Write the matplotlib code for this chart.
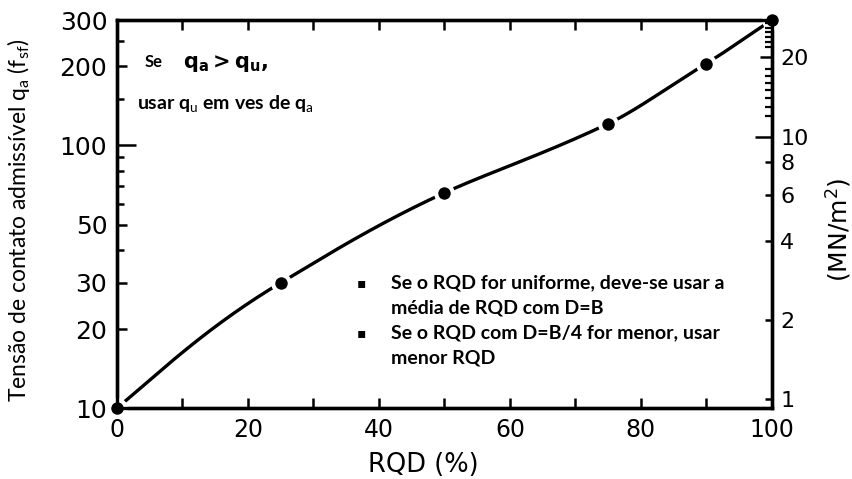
import numpy as np
import matplotlib
matplotlib.use("Agg")
import matplotlib.pyplot as plt
from matplotlib.ticker import FixedLocator, NullFormatter, FixedFormatter

plt.rcParams['mathtext.fontset'] = 'custom'
plt.rcParams['mathtext.rm'] = 'Lato'
plt.rcParams['mathtext.it'] = 'Lato'
plt.rcParams['mathtext.bf'] = 'Lato:bold'

# Allowable bearing pressure vs RQD
rqd = [0, 25, 50, 75, 90, 100]
qa_tsf = [10, 30, 66, 121, 205, 300]

x_ticks = [0, 20, 40, 60, 80, 100]
x_minor = [10, 30, 50, 70, 90]
y_ticks = [10, 20, 30, 50, 100, 200, 300]
y_minor = [40, 60, 70, 80, 90, 150, 250]
r_ticks = [1, 2, 4, 6, 8, 10, 20]
r_minor = [12, 13, 14, 15, 16, 17, 18, 22, 23, 24, 25, 26, 27]
tsf_to_mn = 0.0925


def pchip(x, y, xs):
    """Monotone piecewise cubic Hermite curve through (x, y)."""
    x = np.asarray(x, float)
    y = np.asarray(y, float)
    h = np.diff(x)
    d = np.diff(y) / h
    n = len(x)
    m = np.zeros(n)
    for i in range(1, n - 1):
        if d[i - 1] * d[i] > 0:
            w1 = 2 * h[i] + h[i - 1]
            w2 = h[i] + 2 * h[i - 1]
            m[i] = (w1 + w2) / (w1 / d[i - 1] + w2 / d[i])
    m[0] = ((2 * h[0] + h[1]) * d[0] - h[0] * d[1]) / (h[0] + h[1])
    m[-1] = ((2 * h[-1] + h[-2]) * d[-1] - h[-1] * d[-2]) / (h[-1] + h[-2])
    out = np.empty_like(xs)
    for k, xv in enumerate(xs):
        i = int(np.clip(np.searchsorted(x, xv, side='right') - 1, 0, n - 2))
        t = (xv - x[i]) / h[i]
        h00 = 2 * t ** 3 - 3 * t ** 2 + 1
        h10 = t ** 3 - 2 * t ** 2 + t
        h01 = -2 * t ** 3 + 3 * t ** 2
        h11 = t ** 3 - t ** 2
        out[k] = h00 * y[i] + h10 * h[i] * m[i] + h01 * y[i + 1] + h11 * h[i] * m[i + 1]
    return out


fig = plt.figure(figsize=(8.52, 4.79), dpi=100)
ax = fig.add_axes([0.1373, 0.148, 0.7687, 0.810])

xs = np.linspace(rqd[0], rqd[-1], 400)
ys = pchip(rqd, qa_tsf, xs)
ax.plot(xs, ys, color='black', lw=2.4, solid_capstyle='round', zorder=3)
ax.plot(rqd, qa_tsf, 'o', color='black', ms=12, mec='white', mew=3,
        clip_on=False, zorder=4)

ax.set_yscale('log')
ax.set_xlim(0, 100)
ax.set_ylim(10, 300)

ax.xaxis.set_major_locator(FixedLocator(x_ticks))
ax.xaxis.set_minor_locator(FixedLocator(x_minor))
ax.set_xticklabels([str(v) for v in x_ticks], family='DejaVu Sans', size=17)
ax.yaxis.set_major_locator(FixedLocator(y_ticks))
ax.yaxis.set_minor_locator(FixedLocator(y_minor))
ax.yaxis.set_major_formatter(FixedFormatter([str(v) for v in y_ticks]))
ax.yaxis.set_minor_formatter(NullFormatter())
for lab in ax.get_yticklabels():
    lab.set_fontfamily('DejaVu Sans')
    lab.set_fontsize(18)

ax.tick_params(axis='x', which='both', direction='in', length=7, width=1.8,
               top=True, pad=7)
ax.tick_params(axis='y', which='major', direction='in', length=7, width=1.8,
               pad=7)
ax.tick_params(axis='y', which='minor', direction='in', length=5, width=1.8)
for t in ax.yaxis.get_major_ticks():
    if t.get_loc() == 100:
        t.tick1line.set_markersize(14)

for s in ax.spines.values():
    s.set_linewidth(2.4)

ax2 = ax.twinx()
ax2.set_yscale('log')
ax2.set_ylim(10 * tsf_to_mn, 300 * tsf_to_mn)
ax2.yaxis.set_major_locator(FixedLocator(r_ticks))
ax2.yaxis.set_minor_locator(FixedLocator(r_minor))
ax2.yaxis.set_major_formatter(FixedFormatter([str(v) for v in r_ticks]))
ax2.yaxis.set_minor_formatter(NullFormatter())
for lab in ax2.get_yticklabels():
    lab.set_fontfamily('DejaVu Sans')
    lab.set_fontsize(16)
ax2.tick_params(axis='y', which='major', direction='in', length=5, width=1.8,
                pad=6)
ax2.tick_params(axis='y', which='minor', direction='in', length=5, width=1.6)
for t in ax2.yaxis.get_major_ticks():
    if t.get_loc() in (10, 20):
        t.tick2line.set_markersize(12 if t.get_loc() == 10 else 9)
for s in ax2.spines.values():
    s.set_linewidth(2.4)

fig.text(423 / 852, 1 - 465 / 479, 'RQD (%)', family='DejaVu Sans',
         fontsize=18.5, ha='center', va='center')
fig.text(0.022, 1 - 220 / 479,
         r'Tensão de contato admissível $\mathrm{q_a}$ $\mathrm{(f_{sf})}$',
         family='Lato', fontsize=16.5, rotation=90, ha='center', va='center')
fig.text(838 / 852, 1 - 230 / 479, r'(MN/m$^{\mathregular{2}}$)', family='DejaVu Sans',
         fontsize=18, rotation=90, ha='center', va='center')

# Notes inside the plot
fig.text(145 / 852, 1 - 62 / 479, 'Se', family='Lato', fontsize=12,
         weight='bold', va='center')
fig.text(183 / 852, 1 - 64 / 479, r'$\mathbf{q_a > q_u}$,', family='DejaVu Sans',
         fontsize=15, weight='bold', va='center', math_fontfamily='dejavusans')
fig.text(137 / 852, 1 - 103 / 479, r'usar q$_\mathrm{u}$ em ves de q$_\mathrm{a}$',
         family='Lato', fontsize=14, weight='bold', va='center')

bullet_lines = [
    ('▪', 'Se o RQD for uniforme, deve-se usar a', 283),
    ('', 'média de RQD com D=B', 308),
    ('▪', 'Se o RQD com D=B/4 for menor, usar', 333),
    ('', 'menor RQD', 358),
]
for mark, txt, ypix in bullet_lines:
    if mark:
        fig.text(357 / 852, 1 - ypix / 479, mark, family='DejaVu Sans',
                 fontsize=10, va='center')
    fig.text(391 / 852, 1 - ypix / 479, txt, family='Lato', fontsize=14,
             weight='bold', va='center')

fig.savefig('out.png', dpi=100)
